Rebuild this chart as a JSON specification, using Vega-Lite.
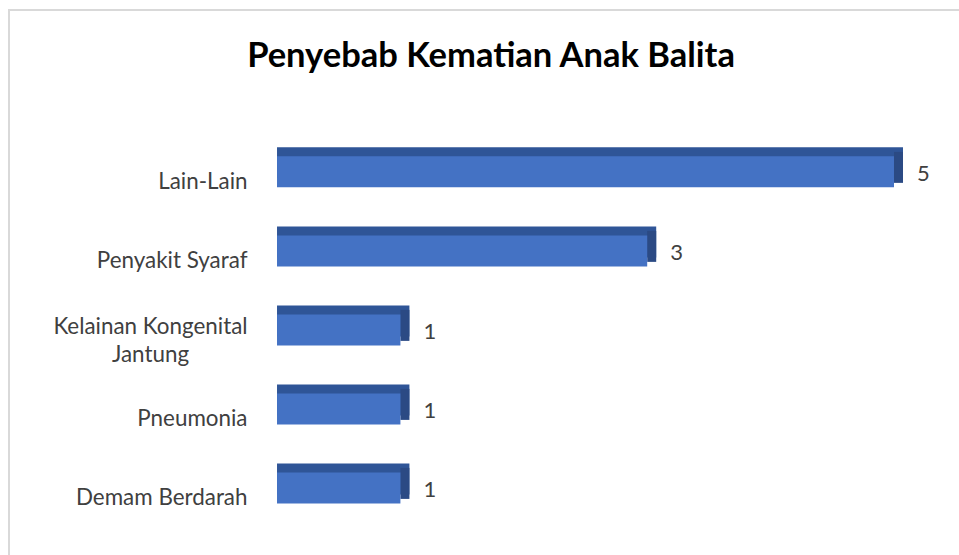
{
  "$schema": "https://vega.github.io/schema/vega-lite/v6.json",
  "width": 952,
  "height": 548,
  "autosize": {"type": "none"},
  "padding": {"left": 9, "top": 10, "right": 0, "bottom": 0},
  "background": "white",
  "title": {"text": "Penyebab Kematian Anak Balita", "font": "Lato", "fontSize": 34.5, "fontWeight": "bold", "color": "#000000", "anchor": "middle", "frame": "group", "dx": 6, "dy": 64, "offset": 0},
  "data": {"values": [
    {"cause": "Lain-Lain", "count": 5},
    {"cause": "Penyakit Syaraf", "count": 3},
    {"cause": "Kelainan Kongenital Jantung", "count": 1},
    {"cause": "Pneumonia", "count": 1},
    {"cause": "Demam Berdarah", "count": 1}
  ]},
  "encoding": {
    "y": {
      "field": "cause", "type": "nominal", "sort": null,
      "scale": {"paddingInner": 0, "paddingOuter": 0.968, "align": 0.8},
      "axis": {
        "title": null, "domain": false, "ticks": false, "grid": false,
        "labelPadding": {"condition": {"test": "datum.value == 'Kelainan Kongenital Jantung'", "value": -141}, "value": -238},
        "labelAlign": {"condition": {"test": "datum.value == 'Kelainan Kongenital Jantung'", "value": "center"}, "value": "right"},
        "labelOffset": {"condition": {"test": "datum.value == 'Kelainan Kongenital Jantung'", "value": -3}, "value": 10},
        "labelBaseline": "middle",
        "labelFont": "Lato", "labelFontSize": 22.4, "labelColor": "#404040",
        "labelLimit": 400, "labelLineHeight": 28,
        "labelExpr": "datum.label == 'Kelainan Kongenital Jantung' ? ['Kelainan Kongenital', 'Jantung'] : datum.label"
      }
    }
  },
  "layer": [
    {
      "mark": {"type": "bar", "size": 31, "xOffset": 9, "yOffset": -9, "color": "#2F5597"},
      "encoding": {
        "x": {"field": "count", "type": "quantitative", "scale": {"domain": [-2.172, 5.543], "nice": false, "zero": false}, "axis": null},
        "x2": {"datum": 0}
      }
    },
    {
      "mark": {"type": "tick", "orient": "vertical", "thickness": 9, "size": 31, "xOffset": 4.5, "yOffset": -4.5, "color": "#2B4A84", "opacity": 1},
      "encoding": {
        "x": {"field": "count", "type": "quantitative"}
      }
    },
    {
      "mark": {"type": "bar", "size": 31, "color": "#4472C4"},
      "encoding": {
        "x": {"field": "count", "type": "quantitative"},
        "x2": {"datum": 0}
      }
    },
    {
      "mark": {"type": "text", "align": "left", "baseline": "middle", "dx": 23, "dy": 2, "font": "Lato", "fontSize": 22, "color": "#404040"},
      "encoding": {
        "x": {"field": "count", "type": "quantitative"},
        "text": {"field": "count", "type": "quantitative"}
      }
    }
  ],
  "config": {"view": {"stroke": "#d9d9d9", "strokeWidth": 2}}
}
